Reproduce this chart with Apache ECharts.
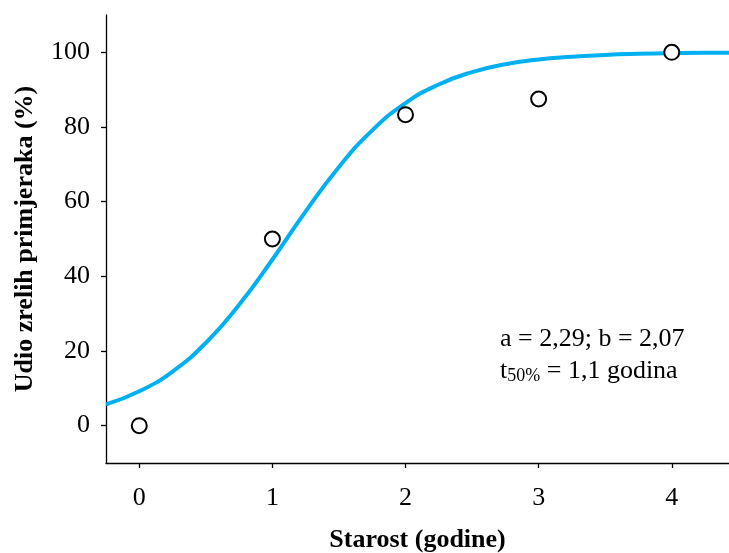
<!DOCTYPE html>
<html>
<head>
<meta charset="utf-8">
<script src="https://cdn.jsdelivr.net/npm/echarts@6/dist/echarts.min.js"></script>
<style>
  html, body { margin: 0; padding: 0; background: #fff; }
  #chart { width: 729px; height: 553px; }
</style>
</head>
<body>
<div id="chart"></div>
<script>
// observed points (age, % mature)
var ages = [0, 1, 2, 3, 4];
var mature = [0, 50, 83.3, 87.5, 100];

// fitted logistic curve
var curveX = [-0.25, 0, 0.25, 0.5, 0.75, 1, 1.25, 1.5, 1.75, 2, 2.25, 2.5, 2.75, 3, 3.25, 3.5, 3.75, 4, 4.25, 4.45];
var curveY = [5.7, 9.2, 14.5, 22.2, 32.4, 44.5, 57.4, 69.3, 79.1, 86.4, 91.4, 94.7, 96.8, 98.1, 98.8, 99.3, 99.6, 99.8, 99.9, 99.9];

var xTicks = [0, 1, 2, 3, 4];
var yTicks = [0, 20, 40, 60, 80, 100];

var chart = echarts.init(document.getElementById('chart'));

var font = 'Liberation Serif';

var option = {
  animation: false,
  grid: {
    left: 106,
    right: 0,
    top: 15,
    bottom: 90,
    containLabel: false,
    outerBoundsMode: 'none',
  },
  xAxis: {
    type: 'value',
    min: -0.25,
    max: 4.43,
    name: 'Starost (godine)',
    nameLocation: 'middle',
    nameGap: 64,
    nameTextStyle: {
      fontFamily: font,
      fontSize: 26,
      fontWeight: 'bold',
      color: '#000',
    },
    axisLine: {
      onZero: false,
      lineStyle: { color: '#000', width: 1.3 },
    },
    axisTick: {
      show: true,
      length: 5,
      customValues: xTicks,
      lineStyle: { color: '#000', width: 1.3 },
    },
    axisLabel: {
      customValues: xTicks,
      margin: 22,
      fontFamily: font,
      fontSize: 26,
      color: '#000',
    },
    splitLine: { show: false },
  },
  yAxis: {
    type: 'value',
    min: -10,
    max: 110,
    name: 'Udio zrelih primjeraka (%)',
    nameLocation: 'middle',
    nameGap: 68,
    nameTextStyle: {
      fontFamily: font,
      fontSize: 26,
      fontWeight: 'bold',
      color: '#000',
    },
    axisLine: {
      show: true,
      onZero: false,
      lineStyle: { color: '#000', width: 1.3 },
    },
    axisTick: {
      show: true,
      length: 5,
      customValues: yTicks,
      lineStyle: { color: '#000', width: 1.3 },
    },
    axisLabel: {
      customValues: yTicks,
      margin: 16,
      fontFamily: font,
      fontSize: 26,
      color: '#000',
    },
    splitLine: { show: false },
  },
  series: [
    {
      name: 'curve',
      type: 'line',
      data: curveX.map(function (x, i) { return [x, curveY[i]]; }),
      smooth: true,
      showSymbol: false,
      lineStyle: { color: '#00B0F0', width: 4 },
      clip: true,
      z: 2,
    },
    {
      name: 'points',
      type: 'scatter',
      data: ages.map(function (x, i) { return [x, mature[i]]; }),
      symbol: 'circle',
      symbolSize: 15,
      itemStyle: {
        color: '#fff',
        borderColor: '#000',
        borderWidth: 2,
        opacity: 1,
      },
      z: 3,
    },
  ],
  graphic: [
    {
      type: 'text',
      left: 500,
      top: 326,
      style: {
        text: 'a = 2,29; b = 2,07',
        font: '26px "Liberation Serif"',
        fill: '#000',
      },
    },
    {
      type: 'text',
      left: 500,
      top: 358,
      style: {
        text: '{t|t}{s|50%}{t| = 1,1 godina}',
        fill: '#000',
        rich: {
          t: { fontFamily: font, fontSize: 26, color: '#000' },
          s: { fontFamily: font, fontSize: 18, color: '#000', verticalAlign: 'bottom', padding: [10, 0, 0, 0] },
        },
      },
    },
  ],
};

chart.setOption(option);
</script>
</body>
</html>
